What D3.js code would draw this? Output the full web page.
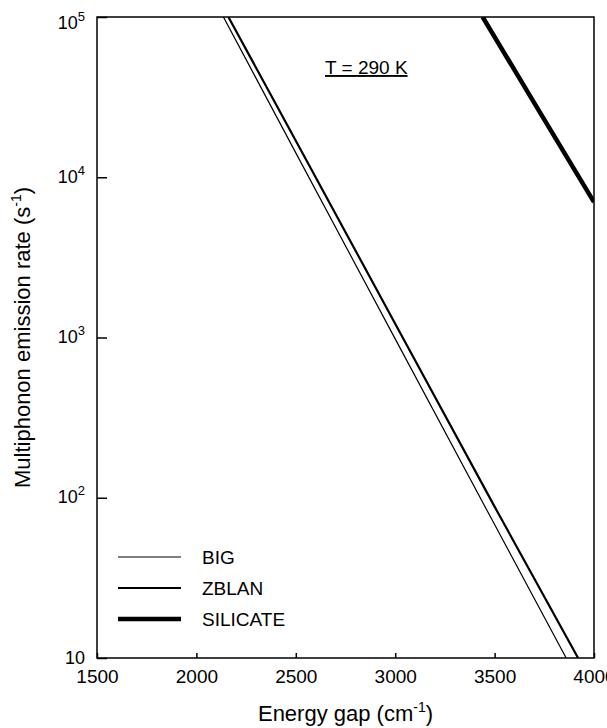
<!DOCTYPE html>
<html>
<head>
<meta charset="utf-8">
<script src="https://cdn.jsdelivr.net/npm/d3@7"></script>
<style>
  body { margin: 0; background: #fff; }
  svg { display: block; font-family: "Liberation Sans", Arial, sans-serif; }
  .line { fill: none; stroke: #000; }
</style>
</head>
<body>
<svg></svg>
<script>
// values (energy gap in cm-1, rate in s-1)
var bigEnergy = [2136, 2500, 3000, 3500, 3860];
var bigRate = [1e5, 1.42e4, 9.8e2, 6.8e1, 10];

var zblanEnergy = [2161, 2500, 3000, 3500, 3920];
var zblanRate = [1e5, 1.69e4, 1.22e3, 8.8e1, 10];

var silicateEnergy = [3440, 3700, 4000];
var silicateRate = [1e5, 2.9e4, 7.0e3];

var seriesNames = ['BIG', 'ZBLAN', 'SILICATE'];
var xTicks = [1500, 2000, 2500, 3000, 3500, 4000];
var yTicks = [10, 100, 1000, 10000, 100000];

var width = 607,
  height = 728;
var margin = { top: 17, right: 13, bottom: 70, left: 97 };
var w = width - margin.left - margin.right,
  h = height - margin.top - margin.bottom;

var svg = d3.select('svg')
  .attr('width', width)
  .attr('height', height);

var g = svg.append('g')
  .attr('transform', 'translate(' + margin.left + ',' + margin.top + ')');

var x = d3.scaleLinear().domain([1500, 4000]).range([0, w]);
var y = d3.scaleLog().domain([10, 1e5]).range([h, 0]);

g.append('clipPath').attr('id', 'plot')
  .append('rect').attr('width', w).attr('height', h);

var widths = [1.2, 2.2, 4.5];
var series = [
  { e: bigEnergy, r: bigRate },
  { e: zblanEnergy, r: zblanRate },
  { e: silicateEnergy, r: silicateRate }
].map(function (s, i) {
  s.name = seriesNames[i];
  s.sw = widths[i];
  return s;
});

var line = d3.line()
  .x(function (d) { return x(d[0]); })
  .y(function (d) { return y(d[1]); });

g.append('g').attr('clip-path', 'url(#plot)')
  .selectAll('path')
  .data(series)
  .enter().append('path')
  .attr('class', 'line')
  .attr('stroke-width', function (d) { return d.sw; })
  .attr('d', function (d) {
    return line(d.e.map(function (v, i) { return [v, d.r[i]]; }));
  });

// frame
g.append('rect')
  .attr('width', w).attr('height', h)
  .attr('fill', 'none').attr('stroke', '#000').attr('stroke-width', 1.5);

// x axis, ticks pointing inward
var xAxis = g.append('g')
  .attr('transform', 'translate(0,' + h + ')')
  .call(d3.axisBottom(x).tickValues(xTicks).tickFormat(d3.format('d'))
    .tickSizeInner(-5).tickSizeOuter(0).tickPadding(12));
xAxis.select('.domain').remove();
xAxis.selectAll('text').attr('font-size', 19).attr('fill', '#000')
  .attr('font-family', '"Liberation Sans", Arial, sans-serif');
xAxis.selectAll('line').attr('stroke-width', 1.5);

// y axis, ticks pointing inward
var yAxis = g.append('g')
  .call(d3.axisLeft(y).tickValues(yTicks).tickSizeInner(-10).tickSizeOuter(0).tickFormat(''));
yAxis.select('.domain').remove();
yAxis.selectAll('line').attr('stroke-width', 1.5);
yAxis.selectAll('.tick').each(function (d) {
  var p = Math.round(Math.log10(d));
  // top label sits a little lower, like the original
  var dy = p === 5 ? 11 : 5;
  var t = d3.select(this).append('text')
    .attr('x', -12).attr('y', dy)
    .attr('text-anchor', 'end')
    .attr('fill', '#000')
    .attr('font-size', 18)
    .attr('font-family', '"Liberation Sans", Arial, sans-serif');
  if (p === 1) {
    t.text('10');
  } else {
    t.append('tspan').text('10');
    t.append('tspan').attr('dy', -8).attr('font-size', 13).text(p);
  }
});

// axis titles
svg.append('text')
  .attr('x', margin.left + w / 2).attr('y', 721)
  .attr('text-anchor', 'middle').attr('font-size', 22)
  .call(function (t) {
    t.append('tspan').text('Energy gap (cm');
    t.append('tspan').attr('dy', -9).attr('font-size', 14).text('-1');
    t.append('tspan').attr('dy', 9).text(')');
  });

svg.append('text')
  .attr('transform', 'translate(30,' + (margin.top + h / 2) + ') rotate(-90)')
  .attr('text-anchor', 'middle').attr('font-size', 22)
  .call(function (t) {
    t.append('tspan').text('Multiphonon emission rate (s');
    t.append('tspan').attr('dy', -9).attr('font-size', 14).text('-1');
    t.append('tspan').attr('dy', 9).text(')');
  });

// temperature note
g.append('text')
  .attr('x', 228).attr('y', 57)
  .attr('font-size', 19)
  .attr('text-decoration', 'underline')
  .text('T = 290 K');

// legend
var legend = g.selectAll('.legend')
  .data(series)
  .enter().append('g')
  .attr('class', 'legend')
  .attr('transform', function (d, i) {
    return 'translate(21,' + (540 + i * 31) + ')';
  });
legend.append('line')
  .attr('x1', 0).attr('x2', 63)
  .attr('stroke', '#000')
  .attr('stroke-width', function (d) { return d.sw; });
legend.append('text')
  .attr('x', 84).attr('y', 7)
  .attr('font-size', 19)
  .text(function (d) { return d.name; });
</script>
</body>
</html>
